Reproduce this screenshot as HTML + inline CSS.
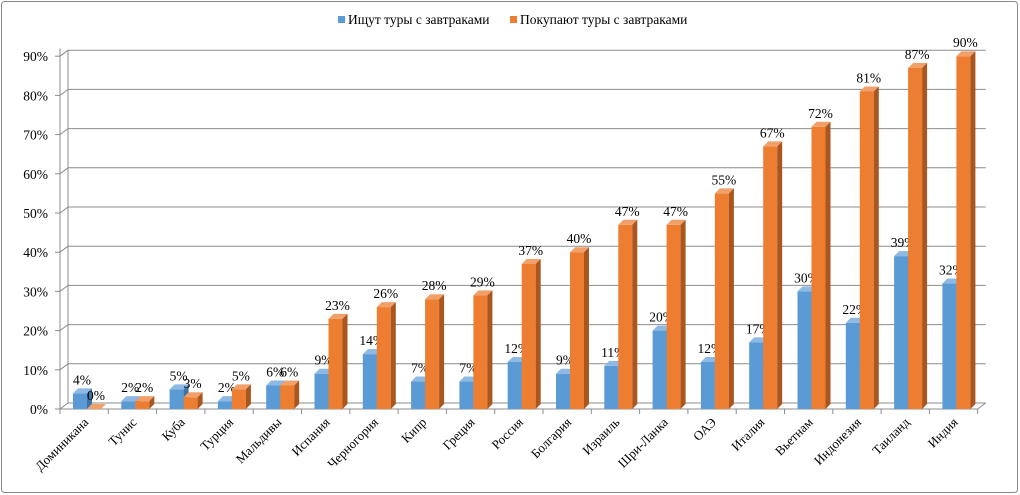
<!DOCTYPE html>
<html><head><meta charset="utf-8"><style>
html,body{margin:0;padding:0;background:#fff;width:1020px;height:495px;overflow:hidden}
svg text{font-family:"Liberation Serif",serif;fill:#000}
</style></head><body>
<svg id="c" width="1020" height="495" xmlns="http://www.w3.org/2000/svg">
<rect x="1.5" y="1.5" width="1016" height="491" fill="#fff" stroke="#888" stroke-width="1" rx="3"/>
<g id="g"></g>
</svg>
<script>
var cats=["Доминикана","Тунис","Куба","Турция","Мальдивы","Испания","Черногория","Кипр","Греция","Россия","Болгария","Израиль","Шри-Ланка","ОАЭ","Италия","Вьетнам","Индонезия","Таиланд","Индия"];
var b=[4,2,5,2,6,9,14,7,7,12,9,11,20,12,17,30,22,39,32];
var o=[0,2,3,5,6,23,26,28,29,37,40,47,47,55,67,72,81,87,90];
var s='';
var y0=409,k=3.92,dx=8,dy=6,L=60,step=48.3,R=L+19*step;
for(var i=0;i<=9;i++){var y=y0-i*10*k;
 s+='<line x1="'+(L+dx)+'" y1="'+(y-dy)+'" x2="'+(R+dx)+'" y2="'+(y-dy)+'" stroke="#8c8c8c"/>';
 s+='<line x1="'+L+'" y1="'+y+'" x2="'+(L+dx)+'" y2="'+(y-dy)+'" stroke="#8c8c8c"/>';
 s+='<line x1="'+(L-5)+'" y1="'+y+'" x2="'+L+'" y2="'+y+'" stroke="#8c8c8c"/>';
 s+='<text x="48" y="'+(y+5)+'" font-size="13.5" text-anchor="end">'+(i*10)+'%</text>';}
s+='<line x1="'+(L+dx)+'" y1="'+(y0-90*k-dy)+'" x2="'+(L+dx)+'" y2="'+(y0-dy)+'" stroke="#8c8c8c"/>';
s+='<line x1="'+(R+dx)+'" y1="'+(y0-dy)+'" x2="'+R+'" y2="'+y0+'" stroke="#8c8c8c"/>';
s+='<line x1="'+L+'" y1="'+(y0-92*k)+'" x2="'+L+'" y2="'+y0+'" stroke="#8c8c8c"/>';
s+='<line x1="'+L+'" y1="'+y0+'" x2="'+R+'" y2="'+y0+'" stroke="#8c8c8c"/>';
for(var i=0;i<=19;i++){var x=L+i*step;s+='<line x1="'+x+'" y1="'+y0+'" x2="'+x+'" y2="'+(y0+5)+'" stroke="#8c8c8c"/>';}
function bar(x,v,f,t,sd){var w=14,d=5,h=v*k,top=y0-h;
 var r='<rect x="'+x+'" y="'+top+'" width="'+w+'" height="'+h+'" fill="'+f+'"/>';
 r+='<polygon points="'+x+','+top+' '+(x+d)+','+(top-d)+' '+(x+w+d)+','+(top-d)+' '+(x+w)+','+top+'" fill="'+t+'"/>';
 r+='<polygon points="'+(x+w)+','+top+' '+(x+w+d)+','+(top-d)+' '+(x+w+d)+','+(y0-d)+' '+(x+w)+','+y0+'" fill="'+sd+'"/>';
 r+='<text x="'+(x+w/2+2)+'" y="'+(top-9)+'" font-size="13.5" text-anchor="middle">'+v+'%</text>';return r;}
for(var i=0;i<19;i++){var x=L+i*step+13;
 s+=bar(x,b[i],'#5B9BD5','#8DB9E3','#3F73A3');
 s+=bar(x+14,o[i],'#ED7D31','#F2A06A','#A9561F');
 var cx=L+i*step+step/2+5;
 s+='<text transform="translate('+cx+',423) rotate(-45)" font-size="13" text-anchor="end">'+cats[i]+'</text>';}
s+='<rect x="338" y="16" width="7" height="7" fill="#5B9BD5"/><text x="348" y="24" font-size="13.5">Ищут туры с завтраками</text>';
s+='<rect x="510" y="16" width="7" height="7" fill="#ED7D31"/><text x="520" y="24" font-size="13.5">Покупают туры с завтраками</text>';
document.getElementById('g').innerHTML=s;
</script>
</body></html>
